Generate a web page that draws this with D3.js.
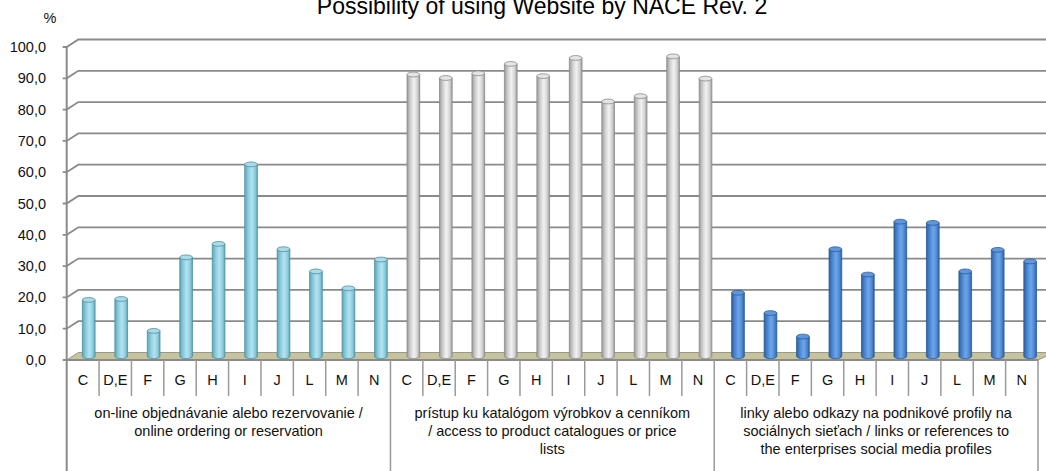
<!DOCTYPE html>
<html>
<head>
<meta charset="utf-8">
<script src="https://cdn.jsdelivr.net/npm/d3@7"></script>
<style>
  body { margin: 0; background: #fff; }
  svg  { display: block; font-family: "Liberation Sans", Arial, sans-serif; }
</style>
</head>
<body>
<div id="chart"></div>
<script>
// chart data
var title       = "Possibility of using Website by NACE Rev. 2";
var unitLabel   = "%";
var categories  = ["C", "D,E", "F", "G", "H", "I", "J", "L", "M", "N"];
var groupLabels = [
  ["on-line objednávanie alebo rezervovanie /", "online ordering or reservation"],
  ["prístup ku katalógom výrobkov a cenníkom", "/ access to product catalogues or price", "lists"],
  ["linky alebo odkazy na podnikové profily na", "sociálnych sieťach / links or references to", "the enterprises social media profiles"]
];
var orderingValues  = [18.0, 18.3, 8.1, 31.6, 35.9, 61.3, 34.2, 27.1, 21.7, 30.9];
var catalogueValues = [90.0, 88.9, 90.4, 93.4, 89.5, 95.3, 81.4, 83.1, 95.8, 88.7];
var socialValues    = [20.3, 13.8, 6.3, 34.2, 26.1, 43.0, 42.6, 27.1, 34.0, 30.3];
var yTicks          = [0, 10, 20, 30, 40, 50, 60, 70, 80, 90, 100];

var series = [orderingValues, catalogueValues, socialValues];

// cylinder colours: [edge, mid, highlight, outline, cap]
var palette = [
  ["#5ea7ba", "#8fcfe0", "#b5e3ef", "#4e8fa0", "#a9dbe8"],
  ["#9c9c9c", "#d4d4d4", "#f2f2f2", "#8a8a8a", "#e4e4e4"],
  ["#2f62a3", "#4f8bd6", "#6ea6ea", "#2c5a94", "#5f97de"]
];

var width  = 1046;
var height = 471;
var x0     = 66.7;
var x1     = 1038;
var depthY = 7.5;

var svg = d3.select("#chart").append("svg").attr("width", width).attr("height", height);
var defs = svg.append("defs");

var yFront = d3.scaleLinear().domain([0, 100]).range([360, 47]);

var keys = [];
series.forEach(function (s, g) { categories.forEach(function (c) { keys.push(g + "|" + c); }); });

var x = d3.scaleBand().domain(keys).range([x0, x1]);

// oblique depth offset grows a little to the right (perspective)
function depthX(px) { return 11.6 + (px - x0) / (x1 - x0) * 5.2; }

function proj(px, v, t) { return [px + t * depthX(px), yFront(v) - t * depthY]; }

var fmt = d3.formatLocale({ decimal: ",", thousands: " ", grouping: [3], currency: ["", ""] }).format(".1f");

// back wall grid
var grid = svg.append("g");
yTicks.forEach(function (v) {
  var a = proj(x0, v, 0), b = proj(x0, v, 1);
  if (v > 0) {
    grid.append("path")
      .attr("d", "M" + (x0 - 4) + "," + a[1] + "L" + a[0] + "," + a[1] + "L" + b[0] + "," + b[1] + "H" + width)
      .attr("fill", "none").attr("stroke", "#8a8a8a").attr("stroke-width", 1.8);
  }
});

// floor
var floorPts = [proj(x0, 0, 0), proj(x1, 0, 0), proj(x1, 0, 1), proj(x0, 0, 1)];
svg.append("polygon")
  .attr("points", floorPts.map(function (p) { return p.join(","); }).join(" "))
  .attr("fill", "#c6c39d").attr("stroke", "#9a9a8a").attr("stroke-width", 1);

svg.append("line")
  .attr("x1", x0 - 4).attr("x2", x1).attr("y1", yFront(0)).attr("y2", yFront(0))
  .attr("stroke", "#8a8a8a").attr("stroke-width", 1.8);

// y axis
svg.append("line")
  .attr("x1", x0).attr("x2", x0).attr("y1", yFront(100) - 1).attr("y2", height)
  .attr("stroke", "#8a8a8a").attr("stroke-width", 2);

svg.append("g").selectAll("text").data(yTicks).join("text")
  .attr("x", 46).attr("y", function (d) { return yFront(d); })
  .attr("dy", "0.35em").attr("text-anchor", "end")
  .attr("font-size", "14.5px").attr("fill", "#111")
  .text(function (d) { return fmt(d); });

svg.append("text").attr("x", 50).attr("y", 18).attr("dy", "0.35em")
  .attr("text-anchor", "middle").attr("font-size", "14.5px").attr("fill", "#111")
  .text(unitLabel);

// cylinder gradients
palette.forEach(function (p, i) {
  var lg = defs.append("linearGradient").attr("id", "cyl" + i).attr("x1", "0").attr("x2", "1").attr("y1", "0").attr("y2", "0");
  lg.append("stop").attr("offset", "0%").attr("stop-color", p[0]);
  lg.append("stop").attr("offset", "30%").attr("stop-color", p[1]);
  lg.append("stop").attr("offset", "55%").attr("stop-color", p[2]);
  lg.append("stop").attr("offset", "80%").attr("stop-color", p[1]);
  lg.append("stop").attr("offset", "100%").attr("stop-color", p[0]);
});

// bars
var barW = 12.7;
var ry   = 2.4;
var bars = [];
series.forEach(function (s, g) {
  s.forEach(function (v, i) { bars.push({ g: g, key: g + "|" + categories[i], v: v }); });
});

var barG = svg.append("g").selectAll("g").data(bars).join("g")
  .attr("transform", function (d) {
    var cx = x(d.key) + x.bandwidth() / 2;
    return "translate(" + (cx + 0.5 * depthX(cx)) + ",0)";
  });

function yMid(v) { return yFront(v) - depthY / 2; }

function bodyPath(d) {
  return "M" + (-barW / 2) + "," + yMid(d.v) + "V" + yMid(0) +
    "A" + barW / 2 + "," + ry + " 0 0 0 " + (barW / 2) + "," + yMid(0) + "V" + yMid(d.v);
}

barG.append("path")
  .attr("d", function (d) { return bodyPath(d) + "Z"; })
  .attr("fill", function (d) { return "url(#cyl" + d.g + ")"; });

barG.append("path")
  .attr("d", bodyPath)
  .attr("fill", "none")
  .attr("stroke", function (d) { return palette[d.g][3]; }).attr("stroke-width", 0.8);

barG.append("ellipse")
  .attr("cx", 0).attr("cy", function (d) { return yMid(d.v); })
  .attr("rx", barW / 2).attr("ry", ry)
  .attr("fill", function (d) { return palette[d.g][4]; })
  .attr("stroke", function (d) { return palette[d.g][3]; }).attr("stroke-width", 0.8);

// category axis
var catAxis = svg.append("g");
keys.forEach(function (k, i) {
  var xs = x(k);
  var isGroupEdge = i % categories.length === 0;
  if (i > 0) {
    catAxis.append("line").attr("x1", xs).attr("x2", xs)
      .attr("y1", yFront(0)).attr("y2", isGroupEdge ? height : 396)
      .attr("stroke", "#9a9a9a").attr("stroke-width", 1.5);
  }
});
catAxis.append("line").attr("x1", x1).attr("x2", x1).attr("y1", yFront(0)).attr("y2", height)
  .attr("stroke", "#9a9a9a").attr("stroke-width", 1.5);

catAxis.selectAll("text.cat").data(keys).join("text").attr("class", "cat")
  .attr("x", function (d) { return x(d) + x.bandwidth() / 2; })
  .attr("y", 380).attr("dy", "0.35em").attr("text-anchor", "middle")
  .attr("font-size", "14.5px").attr("fill", "#111")
  .text(function (d) { return d.split("|")[1]; });

var gw = x.bandwidth() * categories.length;
groupLabels.forEach(function (lines, g) {
  var cx = x0 + gw * (g + 0.5);
  var t = catAxis.append("text").attr("text-anchor", "middle").attr("font-size", "14.5px").attr("fill", "#111");
  lines.forEach(function (line, j) {
    t.append("tspan").attr("x", cx).attr("y", 413 + j * 18).attr("dy", "0.35em").text(line);
  });
});

// title, partly cut by the top edge as in the source image
svg.append("text").attr("x", 542).attr("y", 14)
  .attr("text-anchor", "middle").attr("font-size", "23px").attr("fill", "#000")
  .text(title);
</script>
</body>
</html>
